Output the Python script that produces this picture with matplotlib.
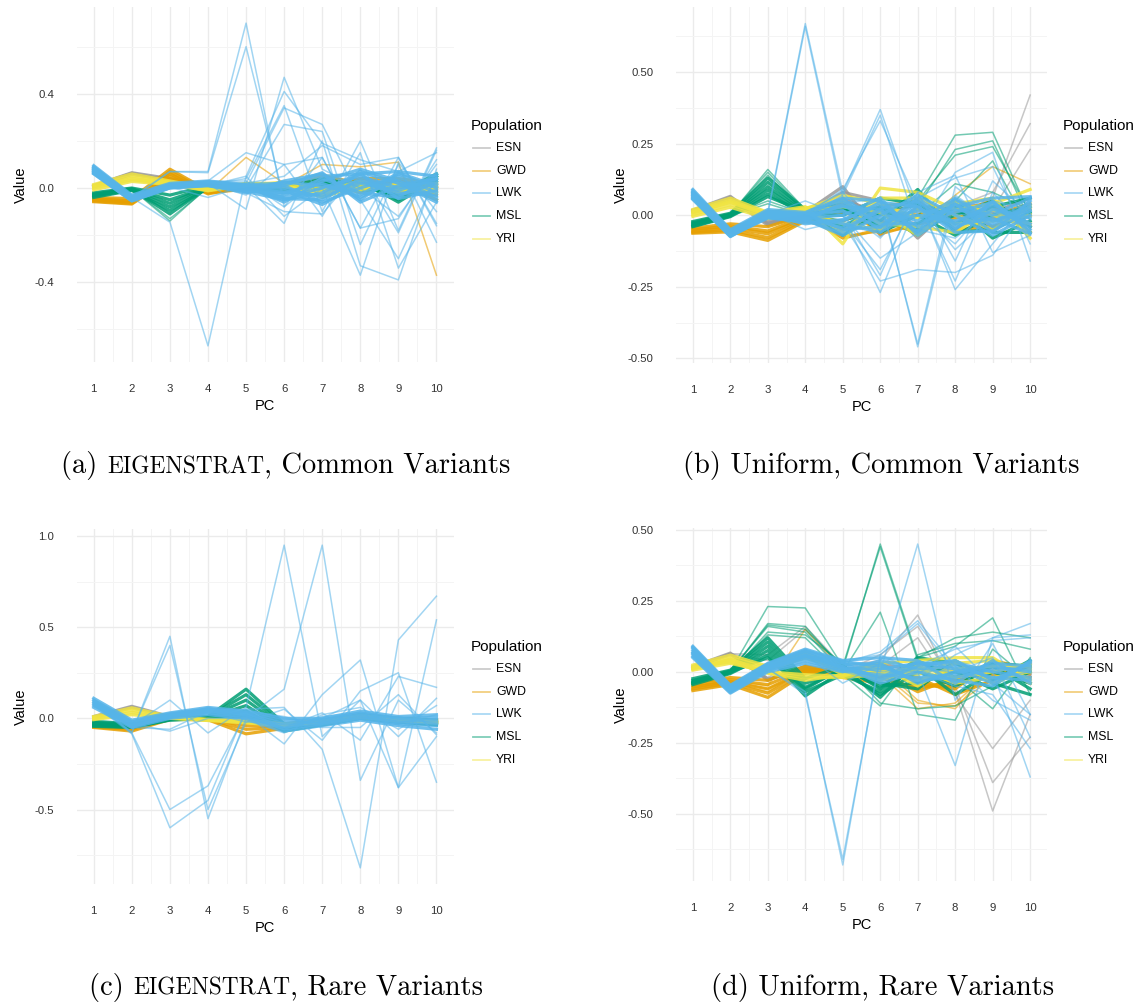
import matplotlib
matplotlib.use("Agg")
import matplotlib.pyplot as plt
from matplotlib.lines import Line2D
from matplotlib.offsetbox import TextArea, HPacker, AnnotationBbox

# PC loadings per sample, grouped by population.
# "core" rows trace the dense band of each group, "out" rows the stray samples.
pcs = [1, 2, 3, 4, 5, 6, 7, 8, 9, 10]
populations = ["ESN", "GWD", "LWK", "MSL", "YRI"]
pop_colors = ["#999999", "#E69F00", "#56B4E9", "#009E73", "#F0E442"]

# ---- (a) EIGENSTRAT, common variants ----
a_esn = [
    [0.010, 0.065, 0.040, 0.015, 0.000, 0.010, 0.030, 0.020, 0.030, 0.000],
    [0.005, 0.058, 0.035, 0.010, -0.005, 0.000, 0.010, 0.040, 0.010, 0.020],
    [0.008, 0.062, 0.030, 0.012, 0.005, -0.010, 0.040, 0.000, 0.020, -0.010],
]
a_gwd = [
    [-0.040, -0.045, 0.080, -0.010, 0.000, 0.010, 0.020, 0.000, 0.030, 0.000],
    [-0.045, -0.055, 0.070, -0.015, 0.010, 0.000, 0.050, 0.020, 0.010, -0.030],
    [-0.050, -0.060, 0.060, -0.020, -0.005, -0.010, 0.000, 0.040, 0.040, 0.020],
    [-0.055, -0.065, 0.050, -0.025, 0.005, 0.020, 0.030, -0.020, 0.020, -0.050],
    [-0.058, -0.068, 0.040, -0.020, 0.000, 0.000, 0.010, 0.010, -0.010, 0.010],
]
a_gwd_out = [
    [-0.048, -0.058, 0.065, -0.015, 0.130, 0.020, 0.060, 0.020, 0.030, 0.000],
    [-0.050, -0.060, 0.060, -0.020, 0.000, 0.010, 0.100, 0.090, 0.110, -0.370],
]
a_msl = [
    [-0.020, 0.000, -0.030, 0.010, 0.010, 0.000, 0.020, 0.010, -0.040, 0.050],
    [-0.025, -0.003, -0.050, 0.005, 0.000, 0.010, 0.000, 0.030, -0.060, 0.040],
    [-0.030, -0.005, -0.065, 0.008, -0.005, -0.010, 0.030, 0.000, -0.020, 0.060],
    [-0.035, -0.008, -0.080, 0.002, 0.005, 0.000, -0.010, 0.020, -0.050, 0.030],
    [-0.040, -0.010, -0.095, 0.000, 0.000, 0.020, 0.010, -0.010, 0.000, 0.020],
    [-0.030, -0.006, -0.110, 0.004, 0.002, 0.005, 0.040, 0.010, -0.030, 0.050],
]
a_msl_out = [
    [-0.030, -0.005, -0.130, 0.000, 0.000, 0.000, 0.020, 0.000, 0.000, 0.040],
    [-0.025, -0.004, -0.140, 0.005, 0.005, -0.005, 0.010, 0.020, -0.010, 0.030],
]
a_yri = [
    [0.015, 0.060, 0.030, 0.000, 0.020, 0.020, -0.020, 0.000, 0.000, 0.000],
    [0.010, 0.050, 0.025, -0.005, 0.015, 0.010, -0.030, 0.020, -0.010, 0.010],
    [0.005, 0.042, 0.020, -0.008, 0.010, 0.025, 0.000, -0.010, 0.020, -0.020],
    [0.000, 0.035, 0.018, -0.010, 0.018, 0.015, -0.040, 0.010, 0.010, 0.020],
    [-0.008, 0.028, 0.015, -0.012, 0.012, 0.005, -0.010, 0.030, -0.020, 0.000],
]
a_lwk = [
    [0.095, -0.030, 0.020, 0.030, 0.015, 0.020, 0.050, 0.060, 0.070, 0.050],
    [0.090, -0.035, 0.015, 0.025, 0.010, 0.000, -0.040, 0.030, -0.030, 0.020],
    [0.085, -0.040, 0.012, 0.022, 0.005, -0.020, 0.020, -0.040, 0.040, -0.040],
    [0.080, -0.045, 0.010, 0.020, 0.000, -0.040, 0.000, 0.050, 0.000, 0.030],
    [0.075, -0.048, 0.008, 0.018, -0.005, 0.010, -0.060, 0.000, 0.050, -0.020],
    [0.070, -0.050, 0.005, 0.015, -0.010, -0.030, 0.040, -0.020, -0.040, 0.060],
    [0.065, -0.052, 0.002, 0.012, -0.015, -0.050, -0.020, 0.070, 0.020, -0.060],
    [0.060, -0.055, 0.000, 0.010, -0.020, 0.030, 0.060, -0.050, 0.060, 0.000],
    [0.078, -0.042, 0.010, 0.020, 0.000, -0.010, -0.070, 0.020, -0.010, 0.040],
    [0.088, -0.038, 0.014, 0.026, 0.008, -0.060, 0.030, 0.080, 0.030, -0.050],
    [0.072, -0.046, 0.006, 0.016, -0.008, 0.025, 0.010, -0.030, 0.065, 0.010],
    [0.068, -0.050, 0.004, 0.014, 0.004, -0.045, -0.050, 0.040, -0.020, -0.030],
    [0.082, -0.044, 0.011, 0.021, 0.012, 0.010, 0.065, -0.060, 0.010, 0.040],
    [0.062, -0.054, 0.001, 0.011, -0.012, -0.020, -0.030, 0.060, -0.045, -0.010],
]
a_lwk_out = [
    [0.080, -0.040, 0.070, 0.070, 0.700, -0.080, 0.050, 0.020, 0.030, 0.000],
    [0.075, -0.045, 0.070, 0.065, 0.600, -0.050, 0.000, 0.060, 0.020, 0.040],
    [0.085, -0.035, 0.010, 0.030, 0.150, 0.100, 0.130, -0.170, 0.130, -0.160],
    [0.070, -0.050, 0.000, 0.020, -0.090, 0.470, 0.080, 0.000, -0.120, 0.100],
    [0.082, -0.042, 0.012, 0.010, 0.050, 0.410, 0.190, 0.120, 0.070, 0.150],
    [0.078, -0.044, 0.008, 0.015, 0.040, 0.350, -0.100, 0.200, -0.180, 0.170],
    [0.074, -0.048, 0.006, 0.020, 0.020, 0.340, 0.270, -0.050, -0.300, 0.050],
    [0.076, -0.046, 0.010, 0.025, 0.000, 0.270, 0.240, -0.240, 0.100, -0.230],
    [0.090, -0.040, -0.145, -0.670, 0.050, -0.120, 0.000, -0.370, 0.110, -0.100],
    [0.072, -0.050, 0.004, -0.040, 0.010, -0.150, 0.200, -0.330, -0.390, 0.080],
    [0.080, -0.045, 0.010, 0.020, -0.030, 0.100, -0.120, 0.150, -0.340, -0.060],
    [0.086, -0.036, 0.015, 0.028, 0.030, -0.080, 0.130, -0.170, -0.130, 0.120],
    [0.066, -0.052, 0.002, 0.012, 0.020, 0.050, 0.180, 0.100, 0.130, -0.150],
    [0.084, -0.040, 0.012, 0.024, -0.020, -0.100, -0.110, 0.080, -0.190, 0.160],
]

# ---- (b) Uniform, common variants ----
b_esn = [
    [0.018, 0.066, -0.030, 0.010, 0.100, -0.070, 0.030, 0.020, -0.040, 0.000],
    [0.015, 0.062, -0.020, 0.005, 0.080, 0.050, -0.080, 0.040, 0.030, -0.030],
    [0.012, 0.058, -0.035, 0.000, 0.060, 0.000, 0.040, -0.050, 0.010, 0.060],
]
b_esn_out = [
    [0.016, 0.064, -0.025, 0.008, 0.050, 0.020, -0.030, 0.000, 0.060, 0.420],
    [0.014, 0.060, -0.030, 0.004, 0.040, -0.020, 0.010, 0.030, 0.080, 0.320],
    [0.017, 0.063, -0.028, 0.006, 0.030, 0.010, 0.050, -0.020, 0.020, 0.230],
]
b_gwd = [
    [-0.045, -0.030, -0.040, 0.000, -0.080, -0.050, 0.020, 0.030, -0.010, 0.020],
    [-0.050, -0.038, -0.055, -0.005, 0.040, -0.065, -0.030, -0.010, 0.030, -0.040],
    [-0.055, -0.045, -0.065, -0.010, -0.020, 0.030, 0.050, -0.050, -0.040, 0.000],
    [-0.060, -0.052, -0.078, -0.015, 0.010, -0.020, -0.060, 0.010, 0.050, -0.060],
    [-0.063, -0.058, -0.088, -0.020, -0.050, 0.010, 0.000, 0.050, 0.000, 0.040],
]
b_gwd_out = [
    [-0.052, -0.040, -0.060, -0.010, -0.070, -0.060, -0.040, 0.070, 0.170, 0.110],
]
b_msl = [
    [-0.022, 0.007, 0.130, 0.020, 0.020, -0.020, 0.090, -0.060, -0.050, 0.010],
    [-0.026, 0.004, 0.115, 0.015, -0.040, 0.030, -0.050, 0.000, 0.050, -0.040],
    [-0.030, 0.002, 0.100, 0.010, 0.050, -0.060, 0.000, -0.070, 0.000, 0.030],
    [-0.034, 0.000, 0.088, 0.005, -0.070, 0.010, -0.070, 0.030, -0.080, -0.020],
    [-0.038, -0.003, 0.075, 0.000, 0.000, 0.060, 0.040, -0.030, 0.030, 0.060],
    [-0.040, -0.005, 0.065, 0.012, 0.030, -0.040, -0.030, 0.050, -0.060, -0.060],
]
b_msl_out = [
    [-0.030, 0.003, 0.160, 0.020, 0.010, 0.000, 0.060, 0.280, 0.290, 0.000],
    [-0.028, 0.005, 0.150, 0.015, 0.000, 0.020, 0.030, 0.230, 0.260, -0.020],
    [-0.032, 0.001, 0.140, 0.010, -0.020, 0.010, 0.050, 0.210, 0.240, 0.010],
    [-0.036, 0.000, 0.050, 0.005, 0.010, -0.030, 0.000, 0.110, 0.080, 0.020],
    [-0.034, -0.002, 0.040, 0.000, 0.020, 0.030, -0.060, 0.050, 0.190, -0.050],
]
b_yri = [
    [0.020, 0.060, 0.010, 0.030, -0.100, 0.095, 0.080, 0.020, 0.040, 0.090],
    [0.014, 0.052, 0.005, 0.025, 0.050, -0.030, -0.040, -0.060, 0.020, -0.060],
    [0.008, 0.045, 0.000, 0.020, -0.060, 0.060, 0.060, 0.000, -0.050, 0.030],
    [0.002, 0.037, -0.005, 0.015, 0.030, 0.010, -0.070, 0.040, 0.060, -0.080],
    [-0.004, 0.028, -0.012, 0.010, -0.030, -0.050, 0.020, -0.030, -0.020, 0.000],
    [0.010, 0.048, 0.002, 0.022, 0.070, 0.040, -0.010, 0.050, 0.000, -0.030],
]
b_lwk = [
    [0.090, -0.050, 0.020, 0.010, 0.060, 0.050, -0.060, 0.040, -0.060, 0.050],
    [0.085, -0.054, 0.015, 0.005, -0.050, -0.040, 0.060, -0.030, 0.040, -0.030],
    [0.080, -0.058, 0.010, 0.000, 0.030, 0.020, -0.020, 0.060, -0.020, 0.020],
    [0.075, -0.062, 0.005, -0.005, -0.030, -0.060, 0.030, -0.050, 0.050, -0.060],
    [0.070, -0.065, 0.000, -0.010, 0.000, 0.060, -0.070, 0.020, 0.000, 0.060],
    [0.065, -0.068, -0.005, -0.015, -0.070, 0.000, 0.070, 0.000, -0.070, 0.000],
    [0.060, -0.072, -0.010, -0.020, 0.045, -0.020, 0.000, -0.020, 0.030, -0.040],
    [0.055, -0.075, 0.000, -0.030, -0.015, 0.035, -0.040, 0.040, -0.040, 0.030],
    [0.078, -0.060, 0.008, -0.002, 0.015, -0.045, 0.045, -0.045, 0.020, -0.010],
    [0.068, -0.066, -0.002, -0.012, -0.045, 0.015, -0.055, 0.055, -0.030, 0.040],
    [0.082, -0.056, 0.012, 0.004, 0.055, -0.010, 0.015, 0.010, 0.045, -0.050],
    [0.062, -0.070, -0.008, -0.025, -0.020, 0.045, 0.030, -0.060, -0.055, 0.015],
    [0.073, -0.063, 0.003, -0.008, 0.035, -0.030, -0.030, 0.030, 0.060, 0.065],
    [0.058, -0.073, -0.006, -0.018, -0.060, 0.025, 0.050, -0.035, -0.010, -0.065],
]
b_lwk_out = [
    [0.080, -0.060, 0.010, 0.670, 0.080, -0.060, 0.000, 0.020, -0.020, 0.030],
    [0.075, -0.062, 0.005, 0.660, 0.060, -0.040, 0.020, 0.000, 0.010, 0.000],
    [0.070, -0.065, 0.000, 0.010, 0.080, 0.370, 0.000, -0.100, 0.050, 0.020],
    [0.072, -0.064, 0.002, -0.010, 0.070, 0.350, -0.050, -0.080, 0.020, -0.030],
    [0.068, -0.066, -0.004, 0.000, 0.090, 0.330, 0.040, -0.120, 0.000, 0.010],
    [0.074, -0.061, 0.004, 0.050, 0.000, -0.150, -0.060, 0.150, 0.220, -0.160],
    [0.076, -0.060, 0.006, -0.050, -0.020, -0.190, 0.060, 0.130, 0.170, -0.100],
    [0.066, -0.068, -0.006, 0.010, 0.010, -0.210, 0.080, -0.160, 0.120, 0.000],
    [0.078, -0.058, 0.008, -0.020, -0.030, -0.230, -0.190, -0.200, -0.140, 0.040],
    [0.064, -0.070, -0.008, 0.000, 0.000, -0.270, 0.050, -0.230, 0.080, -0.060],
    [0.070, -0.066, 0.000, -0.010, 0.040, 0.060, -0.460, 0.070, -0.020, 0.050],
    [0.072, -0.064, 0.002, -0.005, -0.040, 0.050, -0.450, 0.100, 0.000, -0.020],
    [0.068, -0.067, -0.003, 0.005, 0.020, -0.080, 0.060, -0.260, -0.100, 0.060],
    [0.080, -0.058, 0.010, 0.000, 0.050, -0.060, 0.080, 0.140, -0.130, -0.070],
]

# ---- (c) EIGENSTRAT, rare variants ----
c_esn = [
    [0.010, 0.066, 0.010, 0.000, 0.000, -0.030, -0.010, 0.020, 0.000, -0.010],
    [0.005, 0.060, 0.005, -0.005, -0.010, -0.040, -0.020, 0.010, -0.010, -0.020],
]
c_gwd = [
    [-0.040, -0.045, 0.005, 0.000, -0.020, -0.040, -0.020, 0.020, 0.000, -0.010],
    [-0.043, -0.055, 0.000, -0.003, -0.040, -0.045, -0.025, 0.015, -0.010, -0.020],
    [-0.046, -0.062, -0.003, -0.006, -0.060, -0.050, -0.030, 0.010, -0.015, -0.025],
    [-0.050, -0.070, -0.006, -0.008, -0.085, -0.055, -0.030, 0.005, -0.020, -0.030],
]
c_msl = [
    [-0.016, -0.030, 0.005, 0.010, 0.160, -0.030, -0.020, 0.020, 0.000, -0.010],
    [-0.022, -0.035, 0.000, 0.008, 0.130, -0.040, -0.025, 0.015, -0.005, -0.020],
    [-0.028, -0.040, -0.003, 0.005, 0.100, -0.050, -0.030, 0.010, -0.010, -0.025],
    [-0.034, -0.044, -0.005, 0.003, 0.070, -0.060, -0.030, 0.005, -0.015, -0.030],
    [-0.040, -0.048, -0.008, 0.000, 0.040, -0.070, -0.035, 0.000, -0.020, -0.035],
    [-0.044, -0.050, -0.010, 0.000, 0.015, -0.060, -0.035, 0.000, -0.020, -0.035],
]
c_yri = [
    [0.010, 0.058, 0.010, -0.005, -0.010, -0.030, -0.015, 0.015, -0.005, -0.015],
    [0.004, 0.045, 0.005, -0.008, -0.015, -0.035, -0.020, 0.010, -0.010, -0.020],
    [-0.002, 0.032, 0.002, -0.010, -0.020, -0.040, -0.020, 0.010, -0.010, -0.020],
    [-0.007, 0.020, 0.000, -0.012, -0.025, -0.040, -0.025, 0.005, -0.015, -0.025],
]
c_lwk = [
    [0.110, -0.010, 0.030, 0.060, 0.040, 0.000, 0.000, 0.040, 0.010, 0.020],
    [0.100, -0.018, 0.025, 0.052, 0.032, -0.015, -0.008, 0.030, 0.000, 0.005],
    [0.090, -0.025, 0.018, 0.045, 0.025, -0.030, -0.016, 0.020, -0.010, -0.010],
    [0.080, -0.032, 0.012, 0.038, 0.018, -0.045, -0.024, 0.010, -0.020, -0.025],
    [0.070, -0.040, 0.006, 0.030, 0.010, -0.058, -0.032, 0.000, -0.030, -0.040],
    [0.060, -0.050, 0.000, 0.020, 0.000, -0.070, -0.040, -0.010, -0.040, -0.060],
]
c_lwk_out = [
    [0.090, -0.080, 0.450, -0.550, 0.000, -0.050, 0.000, 0.020, -0.020, 0.000],
    [0.085, -0.075, 0.400, -0.500, -0.020, -0.030, -0.020, 0.000, 0.010, -0.030],
    [0.080, -0.080, -0.500, -0.370, 0.030, -0.060, 0.010, 0.030, 0.000, -0.010],
    [0.075, -0.085, -0.600, -0.450, 0.050, 0.000, -0.030, 0.010, -0.030, 0.020],
    [0.070, -0.040, 0.100, -0.080, 0.060, 0.950, -0.100, 0.100, -0.380, -0.100],
    [0.100, -0.030, -0.070, 0.000, 0.000, 0.160, 0.950, -0.340, 0.100, -0.080],
    [0.095, -0.050, -0.060, 0.040, 0.050, 0.060, -0.170, -0.820, 0.430, 0.670],
    [0.080, -0.040, 0.000, 0.050, 0.020, -0.140, 0.130, 0.320, -0.380, 0.540],
    [0.085, -0.050, 0.010, 0.030, -0.020, 0.050, -0.120, 0.150, 0.250, -0.350],
    [0.078, -0.045, 0.020, 0.040, 0.030, -0.050, 0.030, -0.120, 0.230, 0.170],
    [0.090, -0.035, 0.000, 0.060, 0.010, -0.060, 0.000, 0.100, -0.100, 0.110],
    [0.082, -0.048, 0.005, 0.035, 0.040, 0.010, -0.050, -0.050, 0.130, -0.090],
    [0.076, -0.052, 0.015, 0.045, -0.010, -0.080, 0.020, 0.060, -0.060, 0.070],
]

# ---- (d) Uniform, rare variants ----
d_esn = [
    [0.018, 0.066, -0.030, 0.020, -0.010, 0.030, 0.000, -0.040, 0.030, -0.010],
    [0.014, 0.062, -0.025, 0.010, 0.000, -0.020, 0.030, 0.000, -0.020, 0.020],
]
d_esn_out = [
    [0.016, 0.064, 0.060, 0.160, 0.020, 0.040, 0.200, -0.070, -0.490, -0.150],
    [0.015, 0.063, 0.040, 0.150, 0.000, 0.060, 0.160, -0.050, -0.390, -0.230],
    [0.017, 0.065, -0.020, 0.060, 0.010, 0.020, 0.120, -0.080, -0.270, -0.100],
]
d_gwd = [
    [-0.040, -0.020, -0.030, 0.020, 0.000, 0.030, -0.040, -0.060, 0.040, 0.010],
    [-0.047, -0.028, -0.045, 0.010, -0.010, -0.020, -0.060, -0.030, 0.000, -0.020],
    [-0.054, -0.035, -0.060, 0.005, 0.010, 0.010, -0.020, -0.080, -0.030, 0.030],
    [-0.060, -0.040, -0.075, 0.000, -0.020, -0.040, -0.050, -0.050, 0.020, -0.040],
    [-0.066, -0.045, -0.090, -0.005, 0.005, 0.000, -0.070, -0.020, -0.010, 0.000],
]
d_gwd_out = [
    [-0.050, -0.030, -0.050, 0.150, 0.010, 0.020, -0.100, -0.130, 0.020, -0.010],
    [-0.056, -0.036, -0.070, 0.010, -0.010, -0.010, -0.130, -0.110, 0.010, 0.010],
    [-0.052, -0.032, -0.060, 0.005, 0.000, 0.000, -0.110, -0.120, -0.020, 0.000],
]
d_msl = [
    [-0.024, 0.006, 0.120, -0.024, 0.020, -0.060, 0.050, 0.030, -0.030, 0.040],
    [-0.030, 0.003, 0.105, -0.040, 0.000, -0.080, 0.000, -0.050, 0.020, -0.060],
    [-0.035, 0.000, 0.090, -0.055, 0.010, -0.050, -0.040, 0.000, -0.060, 0.000],
    [-0.040, -0.003, 0.075, -0.070, -0.010, -0.070, 0.020, -0.080, 0.000, -0.040],
    [-0.045, -0.006, 0.060, -0.085, 0.005, -0.040, -0.060, 0.040, -0.040, -0.080],
    [-0.038, -0.001, 0.050, -0.060, 0.015, -0.090, 0.040, -0.020, 0.030, 0.020],
]
d_msl_out = [
    [-0.032, 0.002, 0.230, 0.225, 0.020, -0.060, 0.050, 0.090, 0.190, -0.080],
    [-0.036, 0.000, 0.170, 0.160, 0.010, 0.450, 0.050, 0.120, 0.140, 0.120],
    [-0.034, 0.001, 0.165, 0.150, 0.020, 0.440, 0.040, -0.020, -0.130, 0.050],
    [-0.030, 0.004, 0.160, 0.140, 0.000, 0.210, -0.150, -0.170, 0.080, -0.030],
    [-0.042, -0.004, 0.140, 0.130, 0.030, -0.110, -0.130, -0.120, -0.050, 0.020],
    [-0.040, -0.002, 0.130, 0.120, -0.010, -0.120, 0.060, 0.100, 0.110, 0.080],
]
d_yri = [
    [0.024, 0.059, 0.020, 0.070, 0.000, 0.030, 0.040, 0.050, 0.050, -0.030],
    [0.018, 0.050, 0.015, 0.060, -0.010, 0.000, -0.030, 0.010, 0.020, 0.020],
    [0.012, 0.040, 0.008, 0.050, 0.010, -0.030, 0.010, -0.040, -0.020, 0.000],
    [0.006, 0.030, 0.000, -0.010, -0.015, 0.020, -0.050, 0.030, 0.040, -0.040],
    [0.010, 0.045, -0.003, -0.020, -0.020, -0.010, 0.020, -0.020, 0.000, 0.030],
    [0.015, 0.035, -0.005, -0.030, -0.010, 0.010, -0.010, 0.040, -0.040, 0.010],
]
d_lwk = [
    [0.090, -0.047, 0.030, 0.080, 0.040, 0.050, 0.040, -0.040, 0.040, -0.040],
    [0.083, -0.053, 0.025, 0.072, 0.032, -0.030, 0.020, 0.040, -0.030, 0.030],
    [0.076, -0.058, 0.020, 0.065, 0.025, 0.030, -0.040, 0.000, 0.020, 0.000],
    [0.069, -0.063, 0.015, 0.058, 0.018, -0.040, 0.000, -0.030, -0.050, 0.040],
    [0.062, -0.068, 0.010, 0.050, 0.010, 0.010, 0.030, 0.030, 0.000, -0.020],
    [0.055, -0.072, 0.005, 0.040, 0.004, -0.010, -0.020, -0.010, 0.030, 0.020],
    [0.050, -0.075, 0.000, 0.030, 0.000, 0.040, 0.010, 0.020, -0.020, -0.030],
    [0.086, -0.050, 0.028, 0.076, 0.036, 0.020, -0.030, -0.020, 0.010, 0.010],
    [0.066, -0.066, 0.012, 0.054, 0.014, -0.020, 0.035, 0.010, -0.040, 0.035],
]
d_lwk_out = [
    [0.070, -0.065, 0.010, -0.070, -0.680, 0.060, 0.000, 0.010, -0.020, 0.000],
    [0.072, -0.062, 0.012, -0.080, -0.660, 0.050, 0.010, 0.000, 0.000, 0.020],
    [0.068, -0.066, 0.010, 0.060, 0.020, 0.000, 0.450, -0.100, 0.100, -0.150],
    [0.074, -0.060, 0.015, 0.050, 0.030, 0.070, 0.180, 0.020, -0.100, -0.170],
    [0.064, -0.068, 0.008, 0.055, 0.040, 0.060, 0.170, 0.000, 0.050, -0.230],
    [0.066, -0.064, 0.010, 0.060, 0.030, 0.000, 0.000, -0.330, 0.120, 0.130],
    [0.078, -0.056, 0.020, 0.070, 0.020, -0.020, 0.020, 0.080, 0.110, 0.120],
    [0.070, -0.062, 0.012, 0.060, -0.040, 0.030, -0.030, 0.060, 0.120, 0.170],
    [0.080, -0.054, 0.022, 0.065, 0.010, 0.020, 0.000, -0.050, -0.080, -0.270],
    [0.060, -0.070, 0.005, 0.045, 0.000, -0.030, 0.030, 0.040, 0.000, -0.370],
    [0.075, -0.058, 0.018, 0.055, 0.040, 0.010, -0.010, 0.090, -0.040, -0.150],
]

W, H = 1140, 1007
fig = plt.figure(figsize=(W / 100, H / 100), dpi=100)
fig.patch.set_facecolor("white")

sans = "Liberation Sans"
cm = "cmr10"


def px_box(left, top, right, bottom):
    return [left / W, 1 - bottom / H, (right - left) / W, (bottom - top) / H]


def draw_panel(box, groups, yticks, ylabels, yminor):
    ax = fig.add_axes(box)
    allv = []
    # draw order: ESN, GWD, MSL, YRI, then LWK on top
    for pop in ["ESN", "GWD", "MSL", "YRI", "LWK"]:
        col = pop_colors[populations.index(pop)]
        core, out = groups[pop]
        for row in out:
            ax.plot(pcs, row, color=col, alpha=0.55, lw=1.1)
            allv += row
        for row in core:
            ax.plot(pcs, row, color=col, alpha=0.85, lw=2.3)
            allv += row
    lo, hi = min(allv), max(allv)
    pad = 0.05 * (hi - lo)
    ax.set_ylim(lo - pad, hi + pad)
    ax.set_xlim(1 - 0.45, 10 + 0.45)
    ax.set_xticks(pcs)
    ax.set_xticklabels([str(p) for p in pcs])
    ax.set_xticks([p + 0.5 for p in pcs[:-1]], minor=True)
    ax.set_yticks(yticks)
    ax.set_yticklabels(ylabels)
    ax.set_yticks(yminor, minor=True)
    ax.set_axisbelow(True)
    ax.grid(which="major", color="#EBEBEB", lw=1.0)
    ax.grid(which="minor", color="#F4F4F4", lw=0.7)
    for s in ax.spines.values():
        s.set_visible(False)
    ax.tick_params(which="both", length=0)
    ax.tick_params(axis="x", pad=16, labelsize=8.2, labelcolor="#333333")
    ax.tick_params(axis="y", pad=16, labelsize=8.2, labelcolor="#333333")
    for lab in ax.get_xticklabels() + ax.get_yticklabels():
        lab.set_fontfamily(sans)
    ax.set_xlabel("PC", fontsize=10.5, family=sans)
    ax.set_ylabel("Value", fontsize=10.5, family=sans)
    return ax


def draw_legend(x0, ytitle):
    fig.text(x0 / W, 1 - ytitle / H, "Population", fontsize=11, family=sans,
             ha="left", va="center")
    for i, pop in enumerate(populations):
        y = ytitle + 22 + i * 22.7
        fig.add_artist(Line2D([(x0 + 2) / W, (x0 + 19) / W], [1 - y / H, 1 - y / H],
                              color=pop_colors[i], alpha=0.5, lw=1.3))
        fig.text((x0 + 25) / W, 1 - y / H, pop, fontsize=8.8, family=sans,
                 ha="left", va="center")


def caption(xc, yc, parts):
    boxes = []
    for txt, scale in parts:
        boxes.append(TextArea(txt, textprops=dict(family=cm, fontsize=20.5 * scale)))
    pack = HPacker(children=boxes, align="baseline", pad=0, sep=0)
    ab = AnnotationBbox(pack, (xc / W, 1 - yc / H), xycoords="figure fraction",
                        box_alignment=(0.5, 0.5), frameon=False, pad=0)
    fig.add_artist(ab)


panels = [
    (px_box(76.6, 7, 453.6, 362),
     {"ESN": (a_esn, []), "GWD": (a_gwd, a_gwd_out), "LWK": (a_lwk, a_lwk_out),
      "MSL": (a_msl, a_msl_out), "YRI": (a_yri, [])},
     [-0.4, 0.0, 0.4], ["-0.4", "0.0", "0.4"], [-0.6, -0.2, 0.2, 0.6]),
    (px_box(676, 7.4, 1047, 363),
     {"ESN": (b_esn, b_esn_out), "GWD": (b_gwd, b_gwd_out), "LWK": (b_lwk, b_lwk_out),
      "MSL": (b_msl, b_msl_out), "YRI": (b_yri, [])},
     [-0.5, -0.25, 0.0, 0.25, 0.5], ["-0.50", "-0.25", "0.00", "0.25", "0.50"],
     [-0.375, -0.125, 0.125, 0.375, 0.625]),
    (px_box(76.6, 529, 453.6, 884),
     {"ESN": (c_esn, []), "GWD": (c_gwd, []), "LWK": (c_lwk, c_lwk_out),
      "MSL": (c_msl, []), "YRI": (c_yri, [])},
     [-0.5, 0.0, 0.5, 1.0], ["-0.5", "0.0", "0.5", "1.0"], [-0.75, -0.25, 0.25, 0.75]),
    (px_box(676, 528, 1047, 881),
     {"ESN": (d_esn, d_esn_out), "GWD": (d_gwd, d_gwd_out), "LWK": (d_lwk, d_lwk_out),
      "MSL": (d_msl, d_msl_out), "YRI": (d_yri, [])},
     [-0.5, -0.25, 0.0, 0.25, 0.5], ["-0.50", "-0.25", "0.00", "0.25", "0.50"],
     [-0.625, -0.375, -0.125, 0.125, 0.375]),
]

for box, groups, yt, yl, ym in panels:
    ax = draw_panel(box, groups, yt, yl, ym)
    ax.xaxis.set_label_coords(0.5, -44 / 355)
    ax.xaxis.label.set_va("center")
    ax.yaxis.set_label_coords(-56 / 377, 0.5)
    ax.yaxis.label.set_va("center")

draw_legend(471, 126)
draw_legend(1063, 126)
draw_legend(471, 647)
draw_legend(1063, 647)

caption(286, 466, [("(a) ", 1.0), ("EIGENSTRAT", 0.82), (", Common Variants", 1.0)])
caption(881, 466, [("(b) Uniform, Common Variants", 1.0)])
caption(286, 987, [("(c) ", 1.0), ("EIGENSTRAT", 0.82), (", Rare Variants", 1.0)])
caption(883, 987, [("(d) Uniform, Rare Variants", 1.0)])

fig.savefig("out.png", dpi=100, facecolor="white")
